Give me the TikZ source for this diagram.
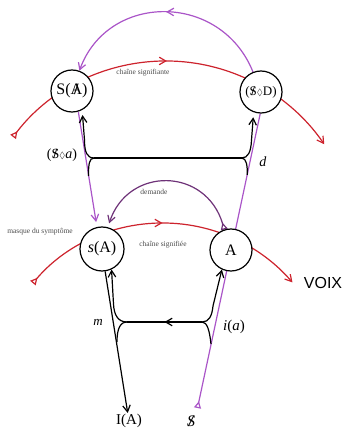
\documentclass[tikz,border=0pt]{standalone}
\usepackage{fontspec}
\usepackage{amssymb}
\setmainfont{Liberation Serif}
\newfontfamily\voixfont{Liberation Sans}
\usetikzlibrary{arrows.meta,decorations.markings}
\newcommand\lacbar[1]{\ooalign{#1\cr\hidewidth\textbf{/}\hidewidth\cr}}
\newcommand\fsz[1]{\fontsize{#1}{#1}\selectfont}
\newcommand\poin{{\fsz{9}$\Diamond$}}
\definecolor{lred}{RGB}{205,35,45}
\definecolor{lpurple}{RGB}{170,85,200}
\definecolor{dpurple}{RGB}{110,50,120}
\pgfdeclarelayer{bg}
\pgfsetlayers{bg,main}
\begin{document}
\begin{tikzpicture}[x=1pt,y=1pt,>={Straight Barb[length=6.5pt,width=7.5pt]},
  circ/.style={circle,draw,line width=1.2pt,fill=white,minimum size=42pt,inner sep=0pt},
  redl/.style={draw=lred,line width=1.2pt},
  purl/.style={draw=lpurple,line width=1.2pt},
  dpurl/.style={draw=dpurple,line width=1.2pt},
  blkl/.style={draw=black,line width=1.2pt},
  tinylab/.style={text=black!70,font=\fsz{7.5},inner sep=0pt},
  biglab/.style={font=\fsz{14},inner sep=1pt},
  midarrow/.style={postaction={decorate},decoration={markings,mark=at position #1 with {\arrow{>}}}},
  tailtri/.style={arrows={{Triangle[open,reversed,length=7pt,width=7pt]}-}},
  tailarr/.style={arrows={{Triangle[open,reversed,length=7pt,width=7pt]}->}}
]
\useasboundingbox (0,0) rectangle (342,432);

% circles
\node[circ] (SA) at (72,341) {\fsz{16}S(\lacbar{A})};
\node[circ] (SD) at (261,340) {\fsz{13}(\lacbar{S}\poin D)};
\node[circ,minimum size=44pt] (sA) at (102,183) {\fsz{16}\textit{s}(A)};
\node[circ] (A) at (231,182) {\fsz{16}A};

% labels
\node[biglab] (IA) at (129,11) {\fsz{15}I(A)};
\node[biglab] (Sbar) at (191,11) {\fsz{16}\textit{\lacbar{S}}};
\node[biglab] (Sa) at (62,277) {(\lacbar{S}\poin\textit{a})};
\node[biglab] (dl) at (263,270) {\textit{d}};
\node[biglab] (ml) at (98,110) {\fsz{13}\textit{m}};
\node[biglab] (ia) at (234,105) {\fsz{15}\textit{i}(\textit{a})};
\node[inner sep=0pt,font=\voixfont\fsz{16}] (voix) at (323,149) {VOIX};
\node[tinylab] (cs1) at (143,359) {chaîne signifiante};
\node[tinylab] (dem) at (154,240) {demande};
\node[tinylab] (mas) at (40,200) {masque du symptôme};
\node[tinylab] (cs2) at (163,187) {chaîne signifiée};

\coordinate (jUL) at (94,274);
\coordinate (jUR) at (241.7,274);
\coordinate (jLL) at (127,110);
\coordinate (jLR) at (202,110);
\coordinate (r1s) at (13.1,295.1);
\coordinate (r2s) at (32.9,148.9);
\coordinate (ptail) at (197.5,24);

\begin{pgfonlayer}{bg}
% red chains
\draw[redl,tailarr,midarrow=0.49] (r1s) arc[start angle=142.8,end angle=34.5,radius=192];
\draw[redl,tailarr,midarrow=0.5] (r2s) arc[start angle=139.6,end angle=40.7,radius=170.8];
% purple
\draw[purl,->,midarrow=0.5] (SD) .. controls (221,440) and (108,440) .. (SA);
\draw[purl,->,shorten >=5pt] (SA.-73) -- (sA.103);
\draw[dpurl,tailarr,shorten >=4pt] (A.108) .. controls (206,265) and (128,266) .. (sA.75);
\draw[purl,tailtri] (ptail) -- (SD.-92);
% upper black
\draw[blkl] (jUL) -- (jUR);
\draw[blkl,->,shorten >=5pt] (jUL) .. controls (87,274) and (84.5,280) .. (84.5,292) -- (SA.-62);
\draw[blkl] (jUL) .. controls (89,274) and (88.5,267) .. (88.5,256);
\draw[blkl,->,shorten >=5pt] (jUR) .. controls (248,274) and (251,280) .. (251.5,292) -- (SD.-110);
\draw[blkl] (jUR) .. controls (246.5,274) and (247.5,266) .. (247.3,257);
% lower black
\draw[blkl,midarrow=0.5] (jLR) -- (jLL);
\draw[blkl,->] (jLL) .. controls (118,110) and (114,117) .. (113.5,128) -- (sA.-65);
\draw[blkl] (jLL) .. controls (120,110) and (117,103) .. (117,90);
\draw[blkl,->] (sA.-82) -- (IA);
\draw[blkl,->] (jLR) .. controls (209,110) and (212,116) .. (213,126) -- (A.-115);
\draw[blkl] (jLR) .. controls (207,110) and (209.5,102) .. (211,88);
\end{pgfonlayer}
\end{tikzpicture}
\end{document}
